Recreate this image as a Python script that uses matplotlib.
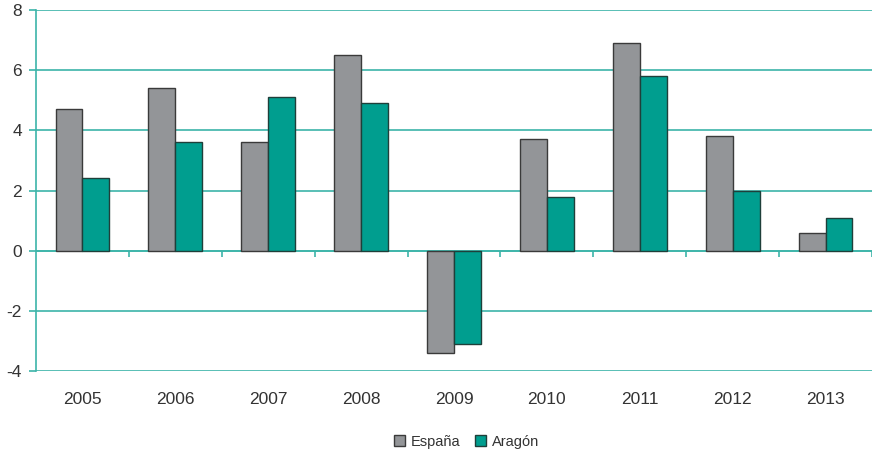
import matplotlib
matplotlib.use("Agg")
import matplotlib.pyplot as plt
import numpy as np

anios = ['2005', '2006', '2007', '2008', '2009', '2010', '2011', '2012', '2013']
espana = [4.7, 5.4, 3.6, 6.5, -3.4, 3.7, 6.9, 3.8, 0.6]
aragon = [2.4, 3.6, 5.1, 4.9, -3.1, 1.8, 5.8, 2.0, 1.1]

gris = '#939598'
verde = '#009e8f'
linea = '#3cb4a9'
texto = '#333333'

plt.rcParams['font.family'] = ['Liberation Sans', 'DejaVu Sans']
plt.rcParams['axes.unicode_minus'] = False

fig = plt.figure(figsize=(8.72, 4.55), dpi=100)
ax = fig.add_axes([0.0413, 0.1846, 0.9587, 0.7934])

x = np.arange(len(anios))
w = 0.29
ax.bar(x - w/2, espana, w, color=gris, edgecolor='#3a3a3a', linewidth=1, label='España', zorder=3)
ax.bar(x + w/2, aragon, w, color=verde, edgecolor='#1f3f3a', linewidth=1, label='Aragón', zorder=3)

ax.set_xlim(-0.5, len(anios) - 0.5)
ax.set_ylim(-4, 8)
ax.set_yticks(range(-4, 9, 2))
ax.yaxis.grid(True, color=linea, linewidth=1.2, zorder=0)
ax.set_axisbelow(True)
ax.axhline(0, color=linea, linewidth=1.2, zorder=2)

for s in ['top', 'right', 'bottom']:
    ax.spines[s].set_visible(False)
ax.spines['left'].set_color(linea)
ax.spines['left'].set_linewidth(1.2)

ax.set_xticks(x, anios)
ax.tick_params(axis='x', length=0, pad=15, labelsize=12.5, labelcolor=texto)
ax.tick_params(axis='y', length=5, width=1.2, color=linea, labelsize=12.5, labelcolor=texto, pad=5)

# small ticks between groups on the zero line
sec = ax.secondary_xaxis(1/3)
sec.set_xticks(np.arange(len(anios)) + 0.5)
sec.tick_params(length=4, width=1.2, color=linea, labelbottom=False, direction='out')
sec.spines['bottom'].set_visible(False)

leg = fig.legend(loc='lower center', bbox_to_anchor=(0.535, -0.015), ncol=2, frameon=False,
                 fontsize=10.5, handlelength=0.75, handleheight=0.75, handletextpad=0.4,
                 columnspacing=1.0, labelcolor=texto)

fig.savefig('out.png', dpi=100)
